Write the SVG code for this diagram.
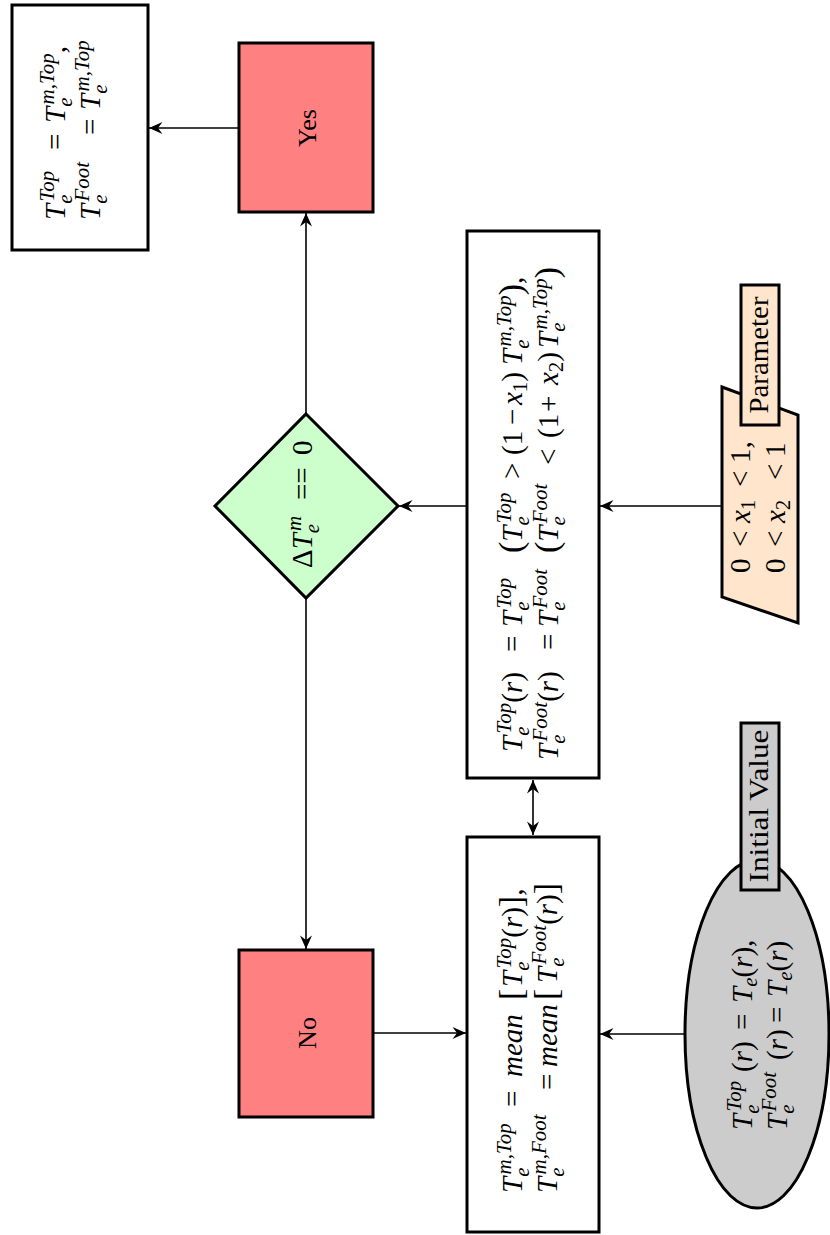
<svg xmlns="http://www.w3.org/2000/svg" width="830" height="1235" viewBox="0 0 830 1235">
<style>
.box{stroke:#000;stroke-width:3}
.w{fill:#fff}
.red{fill:#FF8080}
.grn{fill:#CCFFCC}
.pch{fill:#FFE5CC}
.gry{fill:#CCCCCC}
text{font-family:"Liberation Serif","DejaVu Serif",serif;fill:#000}
.m{font-style:italic;font-size:29px}
.r{font-style:normal}
.s{font-size:21px}
.big{font-size:34px}
.lbl{font-size:28px;font-style:normal}
.conn line{stroke:#000;stroke-width:1.6;fill:none}
</style>
<defs>
<marker id="ah" viewBox="-14 -7 15 14" refX="0" refY="0" markerWidth="15" markerHeight="14" markerUnits="userSpaceOnUse" orient="auto-start-reverse">
<path d="M0,0 L-13.5,-6 L-9,0 L-13.5,6 Z" fill="#000"/>
</marker>
</defs>

<g class="conn">
<line x1="239" y1="128" x2="149" y2="128" marker-end="url(#ah)"/>
<line x1="306" y1="414" x2="306" y2="213" marker-end="url(#ah)"/>
<line x1="306" y1="598" x2="306" y2="949" marker-end="url(#ah)"/>
<line x1="373" y1="1033" x2="466" y2="1033" marker-end="url(#ah)"/>
<line x1="467" y1="506" x2="399" y2="506" marker-end="url(#ah)"/>
<line x1="722" y1="506" x2="600" y2="506" marker-end="url(#ah)"/>
<line x1="685" y1="1034" x2="600" y2="1034" marker-end="url(#ah)"/>
<line x1="533" y1="780" x2="533" y2="835" marker-start="url(#ah)" marker-end="url(#ah)"/>
</g>

<g id="result">
<rect class="box w" x="12" y="5" width="136" height="245"/>
<g transform="rotate(-90)">
<text class="m" x="-220" y="65">T<tspan class="s" dy="7">e</tspan><tspan class="s" dx="-7" dy="-18">Top</tspan><tspan class="r" x="-150" dy="11">=</tspan><tspan x="-123">T</tspan><tspan class="s" dy="7">e</tspan><tspan class="s" dx="-7" dy="-18">m,Top</tspan><tspan class="r" dy="11">,</tspan></text>
<text class="m" x="-220" y="100">T<tspan class="s" dy="7">e</tspan><tspan class="s" dx="-7" dy="-18">Foot</tspan><tspan class="r" x="-135" dy="11">=</tspan><tspan x="-110">T</tspan><tspan class="s" dy="7">e</tspan><tspan class="s" dx="-7" dy="-18">m,Top</tspan></text>
</g>
</g>

<g id="yes">
<rect class="box red" x="239" y="43" width="134" height="169"/>
<text class="r" font-size="26" text-anchor="middle" transform="rotate(-90)" x="-128" y="316">Yes</text>
</g>

<g id="no">
<rect class="box red" x="239" y="950" width="134" height="167"/>
<text class="r" font-size="26" text-anchor="middle" transform="rotate(-90)" x="-1033" y="316">No</text>
</g>

<g id="decision">
<polygon class="box grn" points="306,414 398,506 306,598 215,506"/>
<text class="m" transform="rotate(-90)" x="-568" y="312"><tspan class="r">Δ</tspan>T<tspan class="s" dy="7">e</tspan><tspan class="s" dx="-7" dy="-18">m</tspan><tspan class="r" x="-500" dy="11">==</tspan><tspan class="r" x="-455">0</tspan></text>
</g>

<g id="threshold">
<rect class="box w" x="467" y="231" width="132" height="547"/>
<g transform="rotate(-90)">
<text class="m" x="-752" y="522">T<tspan class="s" dy="7">e</tspan><tspan class="s" dx="-7" dy="-18">Top</tspan><tspan class="r" dy="11">(</tspan>r<tspan class="r">)</tspan><tspan class="r" x="-652">=</tspan><tspan x="-627">T</tspan><tspan class="s" dy="7">e</tspan><tspan class="s" dx="-7" dy="-18">Top</tspan><tspan class="r big" x="-553" dy="11">(</tspan><tspan>T</tspan><tspan class="s" dy="7">e</tspan><tspan class="s" dx="-7" dy="-18">Top</tspan><tspan class="r" x="-479" dy="11">&gt;</tspan><tspan class="r" x="-455">(1</tspan><tspan class="r" x="-425">−</tspan><tspan x="-405">x</tspan><tspan class="s r" dy="5">1</tspan><tspan class="r" dy="-5">)</tspan><tspan x="-365">T</tspan><tspan class="s" dy="7">e</tspan><tspan class="s" dx="-7" dy="-18">m,Top</tspan><tspan class="r big" dy="11">)</tspan><tspan class="r">,</tspan></text>
<text class="m" x="-760" y="558">T<tspan class="s" dy="7">e</tspan><tspan class="s" dx="-7" dy="-18">Foot</tspan><tspan class="r" dy="11">(</tspan>r<tspan class="r">)</tspan><tspan class="r" x="-650">=</tspan><tspan x="-627">T</tspan><tspan class="s" dy="7">e</tspan><tspan class="s" dx="-7" dy="-18">Foot</tspan><tspan class="r big" x="-553" dy="11">(</tspan><tspan>T</tspan><tspan class="s" dy="7">e</tspan><tspan class="s" dx="-7" dy="-18">Foot</tspan><tspan class="r" x="-465" dy="11">&lt;</tspan><tspan class="r" x="-438">(1</tspan><tspan class="r" x="-412">+</tspan><tspan x="-385">x</tspan><tspan class="s r" dy="5">2</tspan><tspan class="r" dy="-5">)</tspan><tspan x="-348">T</tspan><tspan class="s" dy="7">e</tspan><tspan class="s" dx="-7" dy="-18">m,Top</tspan><tspan class="r big" dy="11">)</tspan></text>
</g>
</g>

<g id="mean">
<rect class="box w" x="467" y="837" width="132" height="395"/>
<g transform="rotate(-90)">
<text class="m" x="-1193" y="522">T<tspan class="s" dy="7">e</tspan><tspan class="s" dx="-7" dy="-18">m,Top</tspan><tspan class="r" x="-1107" dy="11">=</tspan><tspan x="-1077">mean</tspan><tspan class="r big" x="-1000">[</tspan><tspan x="-987">T</tspan><tspan class="s" dy="7">e</tspan><tspan class="s" dx="-7" dy="-18">Top</tspan><tspan class="r" dy="11">(</tspan>r<tspan class="r">)</tspan><tspan class="r big">]</tspan><tspan class="r">,</tspan></text>
<text class="m" x="-1193" y="557">T<tspan class="s" dy="7">e</tspan><tspan class="s" dx="-7" dy="-18">m,Foot</tspan><tspan class="r" x="-1090" dy="11">=</tspan><tspan x="-1067">mean</tspan><tspan class="r big" x="-1000">[</tspan><tspan x="-983">T</tspan><tspan class="s" dy="7">e</tspan><tspan class="s" dx="-7" dy="-18">Foot</tspan><tspan class="r" dy="11">(</tspan>r<tspan class="r">)</tspan><tspan class="r big">]</tspan></text>
</g>
</g>

<g id="parameter">
<polygon class="box pch" points="722,387 798,415 798,623 722,597"/>
<g transform="rotate(-90)">
<text class="m" x="-573" y="750"><tspan class="r">0</tspan><tspan class="r" x="-547">&lt;</tspan><tspan x="-523">x</tspan><tspan class="s r" dy="5">1</tspan><tspan class="r" x="-487" dy="-5">&lt;</tspan><tspan class="r" x="-463">1,</tspan></text>
<text class="m" x="-573" y="785"><tspan class="r">0</tspan><tspan class="r" x="-547">&lt;</tspan><tspan x="-523">x</tspan><tspan class="s r" dy="5">2</tspan><tspan class="r" x="-480" dy="-5">&lt;</tspan><tspan class="r" x="-457">1</tspan></text>
</g>
<rect class="box pch" x="741" y="285" width="38" height="140"/>
<text class="lbl" text-anchor="middle" transform="rotate(-90)" x="-355" y="768" textLength="117" lengthAdjust="spacingAndGlyphs">Parameter</text>
</g>

<g id="initial">
<ellipse class="box gry" cx="757" cy="1034" rx="72" ry="174"/>
<g transform="rotate(-90)">
<text class="m" x="-1130" y="752">T<tspan class="s" dy="7">e</tspan><tspan class="s" dx="-7" dy="-18">Top</tspan><tspan class="r" x="-1072" dy="11">(</tspan>r<tspan class="r">)</tspan><tspan class="r" x="-1030">=</tspan><tspan x="-1003">T</tspan><tspan class="s" dy="5">e</tspan><tspan class="r" dy="-5">(</tspan>r<tspan class="r">),</tspan></text>
<text class="m" x="-1130" y="787">T<tspan class="s" dy="7">e</tspan><tspan class="s" dx="-7" dy="-18">Foot</tspan><tspan class="r" x="-1060" dy="11">(</tspan>r<tspan class="r">)</tspan><tspan class="r" x="-1023">=</tspan><tspan x="-997">T</tspan><tspan class="s" dy="5">e</tspan><tspan class="r" dy="-5">(</tspan>r<tspan class="r">)</tspan></text>
</g>
<rect class="box gry" x="741" y="723" width="38" height="167"/>
<text class="lbl" text-anchor="middle" transform="rotate(-90)" x="-806" y="768" textLength="153" lengthAdjust="spacingAndGlyphs">Initial Value</text>
</g>
</svg>
